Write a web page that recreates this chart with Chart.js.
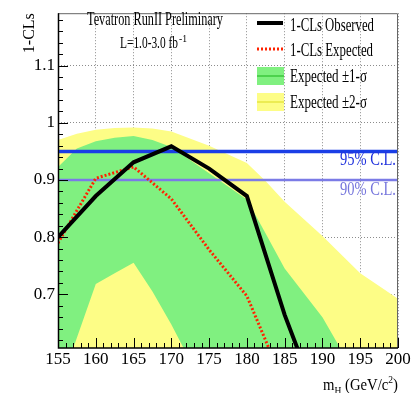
<!DOCTYPE html>
<html>
<head>
<meta charset="utf-8">
<script src="https://cdn.jsdelivr.net/npm/chart.js@4.4.1/dist/chart.umd.min.js"></script>
<style>
  body { margin: 0; background: #fff; }
  #wrap { width: 415px; height: 393px; }
</style>
</head>
<body>
<div id="wrap"><canvas id="c"></canvas></div>
<script>
// Higgs mass points (GeV/c^2) for the two 1-CLs curves
const massLine = [155, 160, 165, 170, 175, 180, 185, 190];
const observed = [0.800, 0.872, 0.931, 0.959, 0.920, 0.872, 0.664, 0.490];
const expected = [0.790, 0.903, 0.923, 0.867, 0.778, 0.697, 0.540, 0.400];

// band mass points and edges
const massBand = [155, 157.5, 160, 162.5, 165, 167.5, 170, 175, 180, 182.5, 185, 190, 195, 200];
const plus2 = [0.970, 0.981, 0.988, 0.991, 0.992, 0.990, 0.985, 0.960, 0.930, 0.898, 0.862, 0.802, 0.737, 0.692];
const plus1 = [0.923, 0.955, 0.968, 0.974, 0.977, 0.970, 0.958, 0.912, 0.866, 0.806, 0.745, 0.660, 0.545, 0.450];
const minus1 = [0.530, 0.624, 0.718, 0.737, 0.755, 0.705, 0.647, 0.520, 0.470, 0.450, 0.430, 0.400, 0.370, 0.350];
const minus2 = [0.420, 0.480, 0.550, 0.570, 0.580, 0.560, 0.520, 0.440, 0.380, 0.360, 0.340, 0.310, 0.290, 0.270];

// confidence level reference lines
const cl95 = 0.95;
const cl90 = 0.90;

// axes
const xTicks = [155, 160, 165, 170, 175, 180, 185, 190, 195, 200];
const xTickLabels = ['155', '160', '165', '170', '175', '180', '185', '190', '195', '200'];
const yTicks = [0.7, 0.8, 0.9, 1.0, 1.1];
const yTickLabels = ['0.7', '0.8', '0.9', '1', '1.1'];
const xMin = 155, xMax = 200;
const yMin = 0.606, yMax = 1.192;

const serif = '"Liberation Serif", "DejaVu Serif", serif';

function zip(xs, ys) {
  return xs.map((x, i) => ({ x: x, y: ys[i] }));
}

// draw text squeezed horizontally to a given width (the original is narrow Times)
function squeezed(ctx, txt, x, y, w, px, align) {
  ctx.font = px + 'px ' + serif;
  const m = ctx.measureText(txt).width;
  ctx.save();
  ctx.translate(x, y);
  ctx.scale(w / m, 1);
  ctx.textAlign = 'left';
  ctx.textBaseline = 'alphabetic';
  let x0 = 0;
  if (align === 'right') x0 = -m;
  if (align === 'center') x0 = -m / 2;
  ctx.fillText(txt, x0, 0);
  ctx.restore();
}

// draw a run of pieces (for sub/superscripts), squeezed to width w, right aligned
function runText(ctx, parts, xRight, y, w) {
  let total = 0;
  parts.forEach(p => {
    ctx.font = p.size + 'px ' + serif;
    p.w = ctx.measureText(p.t).width;
    total += p.w;
  });
  const k = w / total;
  let x = xRight - w;
  ctx.textAlign = 'left';
  ctx.textBaseline = 'alphabetic';
  parts.forEach(p => {
    ctx.save();
    ctx.font = p.size + 'px ' + serif;
    ctx.translate(x, y + (p.dy || 0));
    ctx.scale(k, 1);
    ctx.fillText(p.t, 0, 0);
    ctx.restore();
    x += p.w * k;
  });
}

const decorations = {
  id: 'decorations',
  afterDraw(chart) {
    const ctx = chart.ctx;
    const a = chart.chartArea;
    const xs = chart.scales.x, ys = chart.scales.y;
    ctx.save();

    // frame
    ctx.lineWidth = 1;
    ctx.strokeStyle = '#666';
    ctx.beginPath();
    ctx.moveTo(a.left, a.top + 0.5);
    ctx.lineTo(a.right - 0.5, a.top + 0.5);
    ctx.lineTo(a.right - 0.5, a.bottom);
    ctx.stroke();
    ctx.strokeStyle = '#000';
    ctx.lineWidth = 1.5;
    ctx.beginPath();
    ctx.moveTo(a.left + 0.5, a.top);
    ctx.lineTo(a.left + 0.5, a.bottom);
    ctx.lineTo(a.right, a.bottom);
    ctx.stroke();

    // inward tick marks
    ctx.lineWidth = 1;
    ctx.beginPath();
    for (let v = 155; v <= 200; v++) {
      const px = Math.round(xs.getPixelForValue(v)) + 0.5;
      const len = v % 5 === 0 ? 10 : 5;
      ctx.moveTo(px, a.bottom);
      ctx.lineTo(px, a.bottom - len);
    }
    for (let i = 31; i <= 59; i++) {
      const v = i * 0.02;
      const py = Math.round(ys.getPixelForValue(v)) + 0.5;
      const len = i % 5 === 0 ? 10 : 5;
      ctx.moveTo(a.left, py);
      ctx.lineTo(a.left + len, py);
    }
    ctx.stroke();

    // header text
    ctx.fillStyle = '#000';
    squeezed(ctx, 'Tevatron RunII Preliminary', 155, 25, 136, 18, 'center');
    squeezed(ctx, 'L=1.0-3.0 fb', 120, 48, 58, 17, 'left');
    squeezed(ctx, '-1', 179, 42, 8, 11, 'left');

    // legend
    ctx.lineCap = 'butt';
    ctx.strokeStyle = '#000';
    ctx.lineWidth = 4;
    ctx.beginPath(); ctx.moveTo(257, 23); ctx.lineTo(283, 23); ctx.stroke();
    ctx.strokeStyle = '#ff2200';
    ctx.lineWidth = 3;
    ctx.setLineDash([2, 2]);
    ctx.beginPath(); ctx.moveTo(257, 49); ctx.lineTo(283, 49); ctx.stroke();
    ctx.setLineDash([]);
    ctx.fillStyle = '#80f080';
    ctx.fillRect(257, 67, 27, 18);
    ctx.strokeStyle = '#3cc83c'; ctx.lineWidth = 1.5;
    ctx.beginPath(); ctx.moveTo(257, 76); ctx.lineTo(284, 76); ctx.stroke();
    ctx.fillStyle = '#fdfd86';
    ctx.fillRect(257, 93, 27, 18);
    ctx.strokeStyle = '#e6e640';
    ctx.beginPath(); ctx.moveTo(257, 102); ctx.lineTo(284, 102); ctx.stroke();

    ctx.fillStyle = '#000';
    squeezed(ctx, '1-CLs Observed', 290, 31, 84, 18, 'left');
    squeezed(ctx, '1-CLs Expected', 290, 56, 83, 18, 'left');
    squeezed(ctx, 'Expected \u00b11-\u03c3', 290, 82, 77, 18, 'left');
    squeezed(ctx, 'Expected \u00b12-\u03c3', 290, 108, 77, 18, 'left');

    // CL labels
    ctx.fillStyle = '#2233dd';
    squeezed(ctx, '95% C.L.', 396, 165, 56, 18, 'right');
    ctx.fillStyle = '#7777dd';
    squeezed(ctx, '90% C.L.', 396, 195, 56, 18, 'right');

    // x axis title
    ctx.fillStyle = '#000';
    runText(ctx, [
      { t: 'm', size: 17 },
      { t: 'H', size: 11, dy: 4 },
      { t: ' (GeV/c', size: 17 },
      { t: '2', size: 11, dy: -7 },
      { t: ')', size: 17 }
    ], 398, 390, 75);

    ctx.restore();
  }
};

const ctx = document.getElementById('c').getContext('2d');
const chart = new Chart(ctx, {
  type: 'line',
  data: {
    datasets: [
      {
        label: '1-CLs Observed',
        data: zip(massLine, observed),
        borderColor: '#000',
        borderWidth: 4,
        pointRadius: 0,
        fill: false
      },
      {
        label: '1-CLs Expected',
        data: zip(massLine, expected),
        borderColor: '#ff2200',
        borderWidth: 3,
        borderDash: [2, 2],
        pointRadius: 0,
        fill: false
      },
      {
        label: '95% C.L.',
        data: [{ x: xMin, y: cl95 }, { x: xMax, y: cl95 }],
        borderColor: '#1a3ee6',
        borderWidth: 3.5,
        pointRadius: 0,
        fill: false
      },
      {
        label: '90% C.L.',
        data: [{ x: xMin, y: cl90 }, { x: xMax, y: cl90 }],
        borderColor: '#7b7be6',
        borderWidth: 2.5,
        pointRadius: 0,
        fill: false
      },
      {
        label: 'Expected +1 sigma',
        data: zip(massBand, plus1),
        borderWidth: 0,
        borderColor: 'rgba(0,0,0,0)',
        backgroundColor: '#80f080',
        pointRadius: 0,
        fill: '+1'
      },
      {
        label: 'Expected -1 sigma',
        data: zip(massBand, minus1),
        borderWidth: 0,
        borderColor: 'rgba(0,0,0,0)',
        pointRadius: 0,
        fill: false
      },
      {
        label: 'Expected +2 sigma',
        data: zip(massBand, plus2),
        borderWidth: 0,
        borderColor: 'rgba(0,0,0,0)',
        backgroundColor: '#fdfd86',
        pointRadius: 0,
        fill: '+1'
      },
      {
        label: 'Expected -2 sigma',
        data: zip(massBand, minus2),
        borderWidth: 0,
        borderColor: 'rgba(0,0,0,0)',
        pointRadius: 0,
        fill: false
      }
    ]
  },
  options: {
    animation: false,
    responsive: true,
    maintainAspectRatio: false,
    layout: { padding: { top: 5, right: 17, left: 0, bottom: 0 } },
    plugins: {
      legend: { display: false },
      tooltip: { enabled: false }
    },
    scales: {
      x: {
        type: 'linear',
        min: xMin,
        max: xMax,
        z: 1,
        afterBuildTicks: s => { s.ticks = xTicks.map(v => ({ value: v })); },
        afterFit: s => { s.height = 45; },
        ticks: {
          autoSkip: false,
          maxRotation: 0,
          padding: 1,
          color: '#000',
          font: { family: serif, size: 17 },
          callback: (v, i) => xTickLabels[i]
        },
        grid: { color: 'rgba(0,0,0,0.45)', lineWidth: 1, drawTicks: false },
        border: { display: false, dash: [1, 2] }
      },
      y: {
        min: yMin,
        max: yMax,
        z: 1,
        afterBuildTicks: s => { s.ticks = yTicks.map(v => ({ value: v })); },
        afterFit: s => { s.width = 58; },
        ticks: {
          padding: 3,
          color: '#000',
          font: { family: serif, size: 17 },
          callback: (v, i) => yTickLabels[i]
        },
        grid: { color: 'rgba(0,0,0,0.45)', lineWidth: 1, drawTicks: false },
        border: { display: false, dash: [1, 2] },
        title: {
          display: true,
          text: '1-CLs',
          align: 'end',
          color: '#000',
          font: { family: serif, size: 16 },
          padding: { top: 20, bottom: 0 }
        }
      }
    }
  },
  plugins: [decorations]
});
</script>
</body>
</html>
